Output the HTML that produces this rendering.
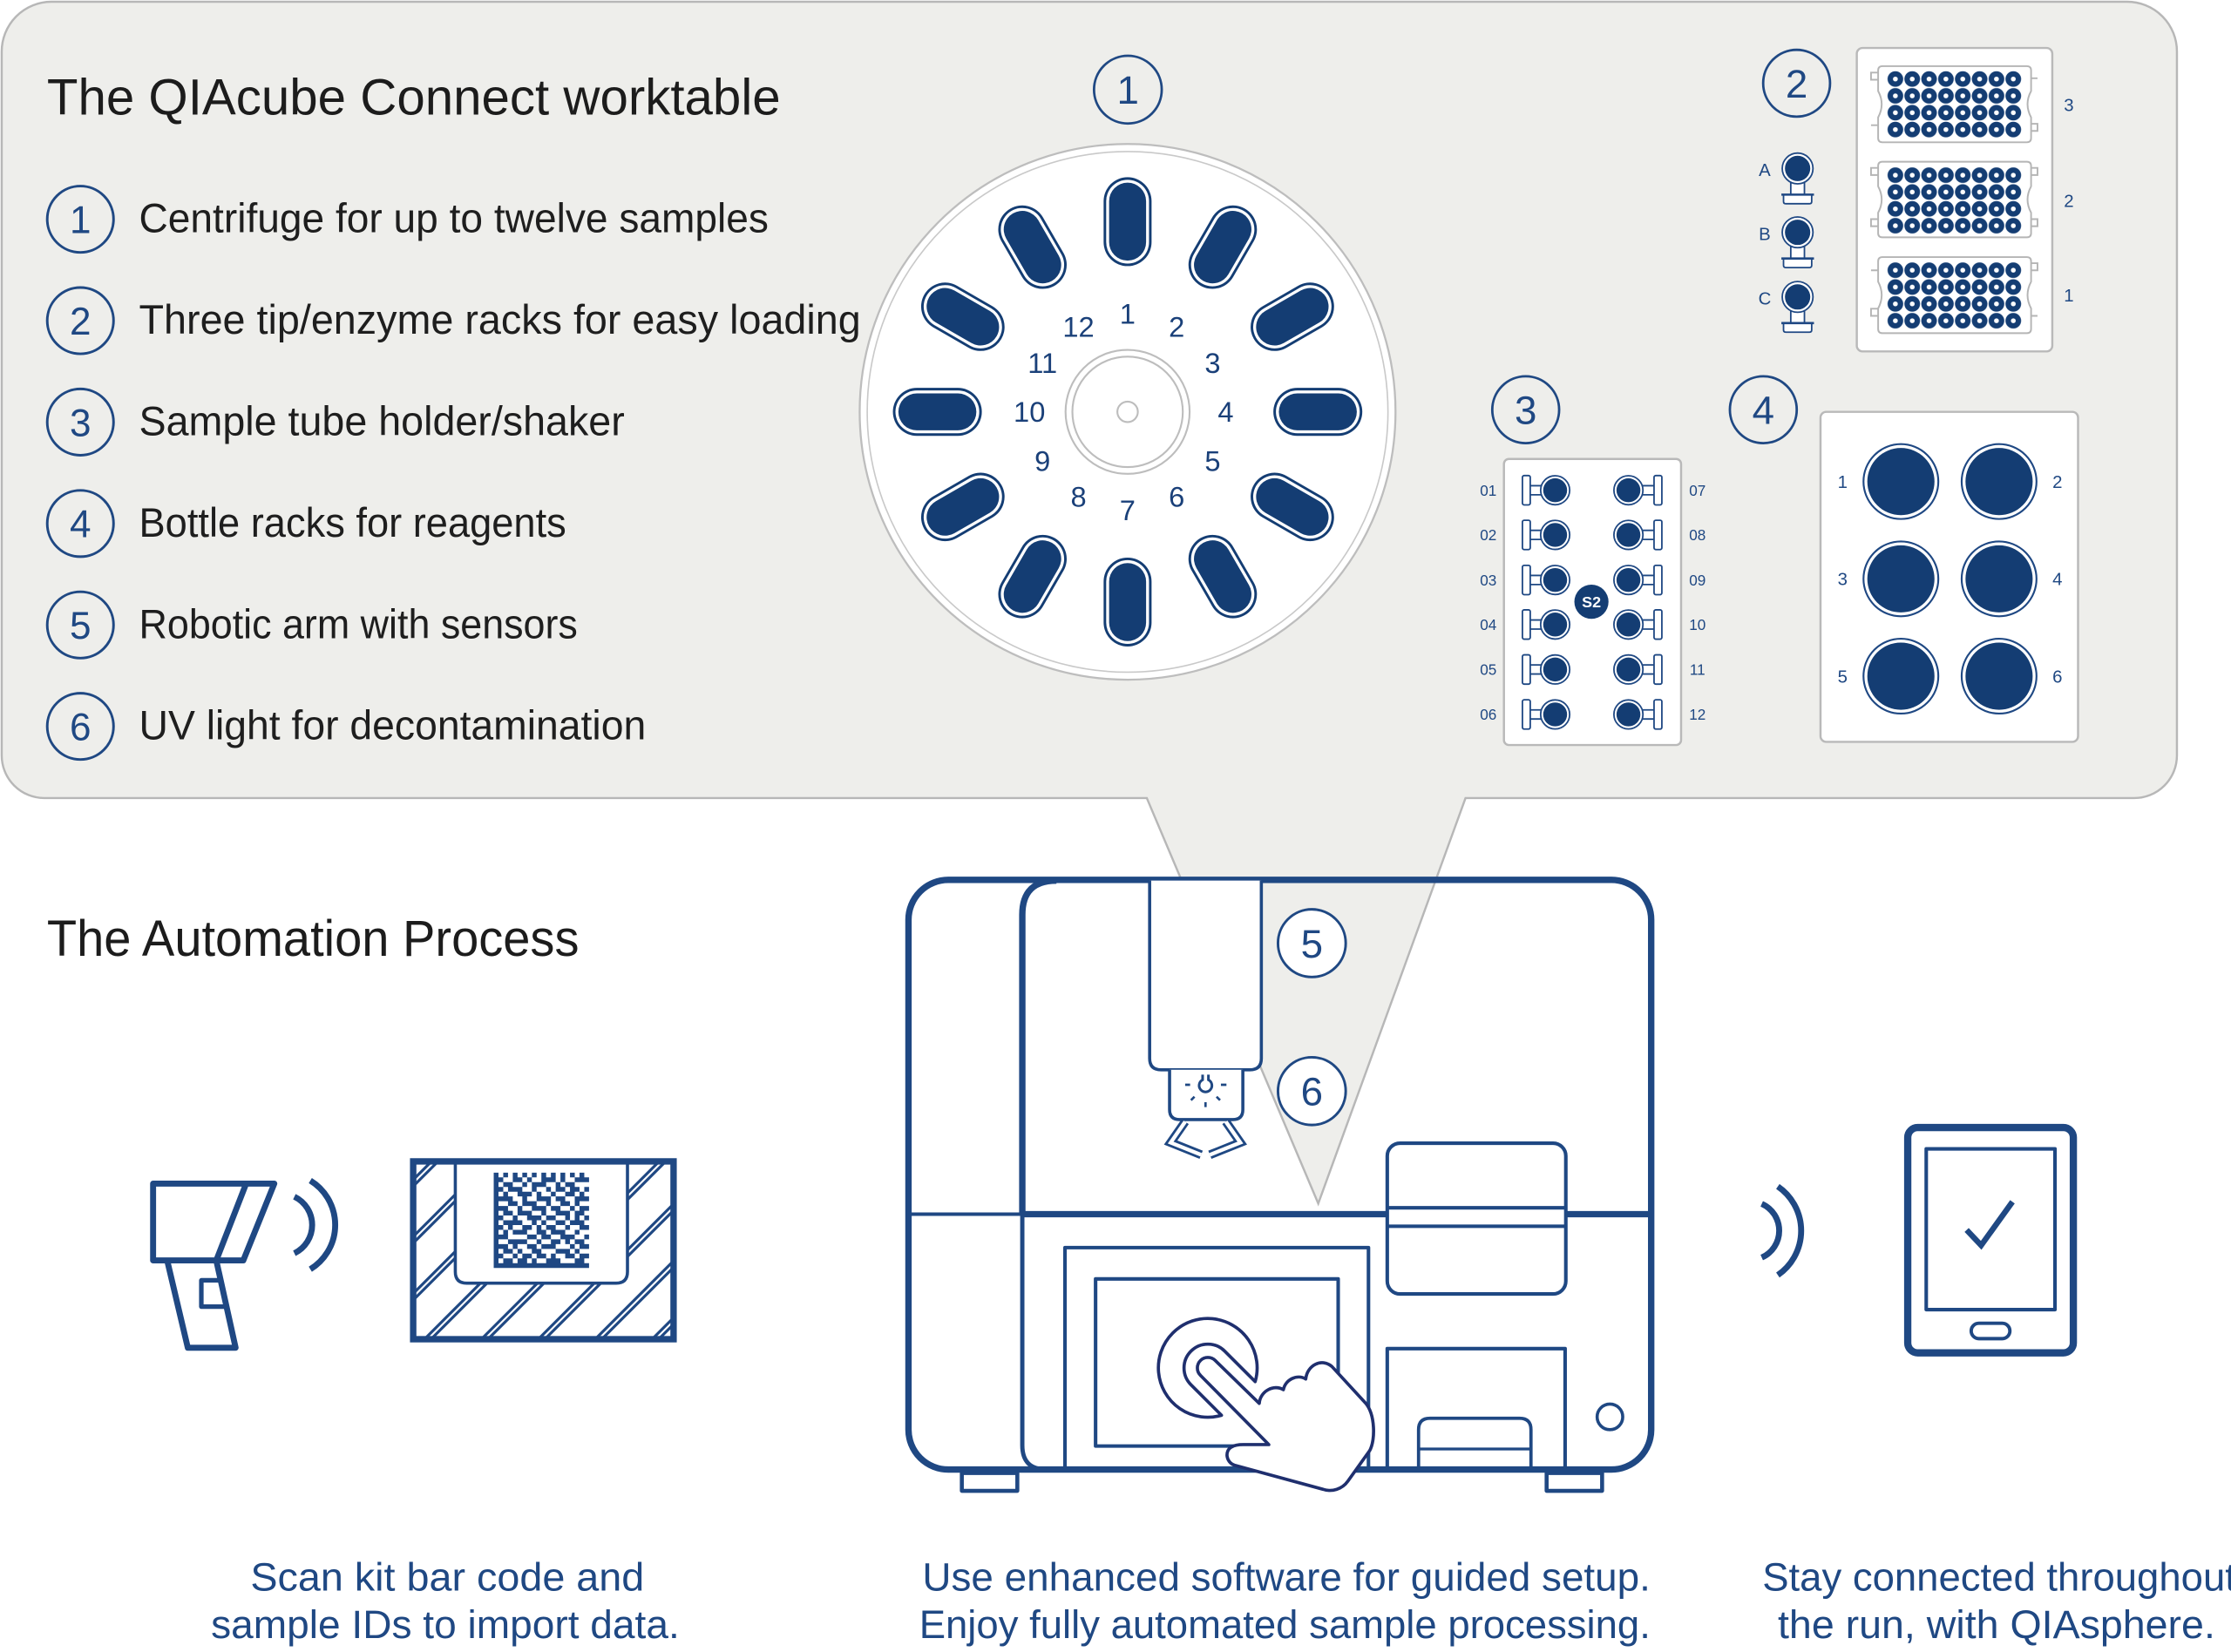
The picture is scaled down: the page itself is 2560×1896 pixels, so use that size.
<!DOCTYPE html>
<html>
<head>
<meta charset="utf-8">
<style>
  html,body{margin:0;padding:0;background:#fff;}
  svg{display:block;}
  text{font-family:"Liberation Sans", sans-serif;}
</style>
</head>
<body>
<svg xmlns="http://www.w3.org/2000/svg" width="2560" height="1896" viewBox="0 0 1568 1161.26">
<defs>
  <g id="slot">
    <rect x="-16.85" y="-31.25" width="33.7" height="62.5" rx="16.85" fill="#143d73"/>
    <rect x="-15.05" y="-29.45" width="30.1" height="58.9" rx="15.05" fill="#fff"/>
    <rect x="-13" y="-27.4" width="26" height="54.8" rx="13" fill="#143d73"/>
  </g>
  <pattern id="wells" patternUnits="userSpaceOnUse" width="11.84" height="11.84">
    <circle cx="5.92" cy="5.92" r="5.5" fill="#143d73"/>
    <circle cx="5.92" cy="5.92" r="1.7" fill="#fff"/>
  </pattern>
  <g id="ltube">
    <rect x="1070" y="-10.3" width="5.5" height="20.6" rx="1.2" fill="#fff" stroke="#1f4883" stroke-width="1.1"/>
    <path d="M1075.5,-3.2H1083.5M1075.5,3.2H1083.5" stroke="#1f4883" stroke-width="1.1" fill="none"/>
    <circle cx="1093" cy="0" r="10.2" fill="#fff" stroke="#1f4883" stroke-width="1.1"/>
    <circle cx="1093" cy="0" r="8.4" fill="#143d73"/>
  </g>
  <g id="rtube">
    <rect x="1162.5" y="-10.3" width="5.5" height="20.6" rx="1.2" fill="#fff" stroke="#1f4883" stroke-width="1.1"/>
    <path d="M1154.5,-3.2H1162.5M1154.5,3.2H1162.5" stroke="#1f4883" stroke-width="1.1" fill="none"/>
    <circle cx="1144.5" cy="0" r="10.2" fill="#fff" stroke="#1f4883" stroke-width="1.1"/>
    <circle cx="1144.5" cy="0" r="8.4" fill="#143d73"/>
  </g>
  <g id="reagent">
    <rect x="1258.6" y="9" width="9.6" height="9.4" fill="#fff" stroke="#1f4883" stroke-width="1.1"/>
    <path d="M1253.5,18.4V23.2Q1253.5,24.8 1255.1,24.8H1271.7Q1273.3,24.8 1273.3,23.2V18.4" fill="#fff" stroke="#1f4883" stroke-width="1.1"/>
    <path d="M1252,18.4H1274.9" stroke="#1f4883" stroke-width="1.6"/>
    <circle cx="1263.4" cy="0" r="10.8" fill="#fff" stroke="#1f4883" stroke-width="1.1"/>
    <circle cx="1263.4" cy="0" r="8.9" fill="#143d73"/>
  </g>
  <g id="bottle">
    <circle cx="0" cy="0" r="26.3" fill="#fff" stroke="#1f4883" stroke-width="1.3"/>
    <circle cx="0" cy="0" r="23.6" fill="#143d73"/>
  </g>
  <clipPath id="boxclip"><rect x="292.5" y="818.6" width="179" height="121"/></clipPath>
</defs>

<rect x="0" y="0" width="1568" height="1161.26" fill="#fff"/>

<!-- Callout panel -->
<path d="M36,1.2 H1495 A35,35 0 0 1 1530,36.2 V531 A30,30 0 0 1 1500,561 H1030 L926.5,846 L806,561 H31 A30,30 0 0 1 1.2,531 V36.2 A35,35 0 0 1 36,1.2 Z" fill="#eeeeeb" stroke="#b7b7b7" stroke-width="1.5"/>

<!-- Titles -->
<text x="33" y="80.6" font-size="36" fill="#1c1c1c" textLength="515.6" lengthAdjust="spacingAndGlyphs">The QIAcube Connect worktable</text>
<text x="33" y="672" font-size="36" fill="#1c1c1c" textLength="374" lengthAdjust="spacingAndGlyphs">The Automation Process</text>

<!-- List -->
<g fill="none" stroke="#1f4883" stroke-width="1.8">
  <circle cx="56.5" cy="154.1" r="23.3"/>
  <circle cx="56.5" cy="225.4" r="23.3"/>
  <circle cx="56.5" cy="296.7" r="23.3"/>
  <circle cx="56.5" cy="368" r="23.3"/>
  <circle cx="56.5" cy="439.3" r="23.3"/>
  <circle cx="56.5" cy="510.6" r="23.3"/>
</g>
<g fill="#1f4883" font-size="27" text-anchor="middle">
  <text x="56.5" y="163.8">1</text>
  <text x="56.5" y="235.1">2</text>
  <text x="56.5" y="306.4">3</text>
  <text x="56.5" y="377.7">4</text>
  <text x="56.5" y="449">5</text>
  <text x="56.5" y="520.3">6</text>
</g>
<g fill="#1e1e1e" font-size="29">
  <text x="97.7" y="163.3" textLength="442.5" lengthAdjust="spacingAndGlyphs">Centrifuge for up to twelve samples</text>
  <text x="97.7" y="234.6" textLength="507.3" lengthAdjust="spacingAndGlyphs">Three tip/enzyme racks for easy loading</text>
  <text x="97.7" y="305.9" textLength="341.3" lengthAdjust="spacingAndGlyphs">Sample tube holder/shaker</text>
  <text x="97.7" y="377.2" textLength="300.3" lengthAdjust="spacingAndGlyphs">Bottle racks for reagents</text>
  <text x="97.7" y="448.5" textLength="308.3" lengthAdjust="spacingAndGlyphs">Robotic arm with sensors</text>
  <text x="97.7" y="519.8" textLength="356.3" lengthAdjust="spacingAndGlyphs">UV light for decontamination</text>
</g>

<!-- Circled numbers in worktable -->
<g fill="none" stroke="#1f4883" stroke-width="1.7">
  <circle cx="792.7" cy="63" r="23.8"/>
  <circle cx="1262.7" cy="58.5" r="23.5"/>
  <circle cx="1072.3" cy="288" r="23.5"/>
  <circle cx="1239.3" cy="288" r="23.5"/>
</g>
<g fill="#1f4883" font-size="28" text-anchor="middle">
  <text x="792.7" y="73">1</text>
  <text x="1262.7" y="68.5">2</text>
  <text x="1072.3" y="298">3</text>
  <text x="1239.3" y="298">4</text>
</g>

<!-- Centrifuge -->
<circle cx="792.5" cy="289.5" r="188.3" fill="#fff" stroke="#bdbdbd" stroke-width="1.4"/>
<circle cx="792.5" cy="289.5" r="183" fill="none" stroke="#c9c9c9" stroke-width="1"/>
<circle cx="792.5" cy="289.5" r="43.6" fill="none" stroke="#bdbdbd" stroke-width="1.3"/>
<circle cx="792.5" cy="289.5" r="38.8" fill="none" stroke="#bdbdbd" stroke-width="1.3"/>
<circle cx="792.5" cy="289.5" r="7.2" fill="none" stroke="#bdbdbd" stroke-width="1.3"/>
<g>
  <use href="#slot" transform="rotate(0 792.5 289.5) translate(792.5 155.8)"/>
  <use href="#slot" transform="rotate(30 792.5 289.5) translate(792.5 155.8)"/>
  <use href="#slot" transform="rotate(60 792.5 289.5) translate(792.5 155.8)"/>
  <use href="#slot" transform="rotate(90 792.5 289.5) translate(792.5 155.8)"/>
  <use href="#slot" transform="rotate(120 792.5 289.5) translate(792.5 155.8)"/>
  <use href="#slot" transform="rotate(150 792.5 289.5) translate(792.5 155.8)"/>
  <use href="#slot" transform="rotate(180 792.5 289.5) translate(792.5 155.8)"/>
  <use href="#slot" transform="rotate(210 792.5 289.5) translate(792.5 155.8)"/>
  <use href="#slot" transform="rotate(240 792.5 289.5) translate(792.5 155.8)"/>
  <use href="#slot" transform="rotate(270 792.5 289.5) translate(792.5 155.8)"/>
  <use href="#slot" transform="rotate(300 792.5 289.5) translate(792.5 155.8)"/>
  <use href="#slot" transform="rotate(330 792.5 289.5) translate(792.5 155.8)"/>
</g>
<g fill="#1a4079" font-size="20" text-anchor="middle">
  <text x="792.5" y="227.5">1</text>
  <text x="827" y="236.7">2</text>
  <text x="852.3" y="262">3</text>
  <text x="861.5" y="296.5">4</text>
  <text x="852.3" y="331">5</text>
  <text x="827" y="356.3">6</text>
  <text x="792.5" y="365.5">7</text>
  <text x="758" y="356.3">8</text>
  <text x="732.7" y="331">9</text>
  <text x="723.5" y="296.5">10</text>
  <text x="732.7" y="262">11</text>
  <text x="758" y="236.7">12</text>
</g>

<!-- Rack 2 -->
<rect x="1305" y="33.7" width="137.4" height="213.3" rx="4" fill="#fff" stroke="#b9b9b9" stroke-width="1.5"/>
<g fill="#fff" stroke="#b5b5b5" stroke-width="1.2">
  <path d="M1323,46.5H1424.5Q1427.5,46.5 1427.5,49.5V64Q1422.5,73.2 1427.5,82.5V97Q1427.5,100 1424.5,100H1323Q1320,100 1320,97V82.5Q1325,73.2 1320,64V49.5Q1320,46.5 1323,46.5Z"/>
  <path d="M1323,113.7H1424.5Q1427.5,113.7 1427.5,116.7V131Q1422.5,140.2 1427.5,149.5V163.8Q1427.5,166.8 1424.5,166.8H1323Q1320,166.8 1320,163.8V149.5Q1325,140.2 1320,131V116.7Q1320,113.7 1323,113.7Z"/>
  <path d="M1323,180.7H1424.5Q1427.5,180.7 1427.5,183.7V198Q1422.5,207.4 1427.5,216.8V231.2Q1427.5,234.2 1424.5,234.2H1323Q1320,234.2 1320,231.2V216.8Q1325,207.4 1320,198V183.7Q1320,180.7 1323,180.7Z"/>
</g>
<g fill="none" stroke="#b5b5b5" stroke-width="1.2">
  <path d="M1320,51H1315V56H1320M1320,88H1315M1427.5,55H1432M1427.5,87H1432V92H1427.5"/>
  <path d="M1320,118H1315V123H1320M1320,154H1315V159H1320M1427.5,118H1432V123H1427.5M1427.5,154H1432V159H1427.5"/>
  <path d="M1320,190H1315M1320,217H1315V222H1320M1427.5,185H1432V190H1427.5M1427.5,222H1432"/>
</g>
<g transform="translate(1326.2,49.6)"><rect x="0" y="0" width="94.72" height="47.36" fill="url(#wells)"/></g>
<g transform="translate(1326.2,117.2)"><rect x="0" y="0" width="94.72" height="47.36" fill="url(#wells)"/></g>
<g transform="translate(1326.2,184)"><rect x="0" y="0" width="94.72" height="47.36" fill="url(#wells)"/></g>
<g fill="#1f4883" font-size="12.5" text-anchor="middle">
  <text x="1454" y="78">3</text>
  <text x="1454" y="145.4">2</text>
  <text x="1454" y="212">1</text>
</g>
<use href="#reagent" transform="translate(0,118.4)"/>
<use href="#reagent" transform="translate(0,163.3)"/>
<use href="#reagent" transform="translate(0,208.7)"/>
<g fill="#1f4883" font-size="12.5" text-anchor="middle">
  <text x="1240.3" y="123.8">A</text>
  <text x="1240.3" y="168.7">B</text>
  <text x="1240.3" y="214.1">C</text>
</g>

<!-- Tube holder 3 -->
<rect x="1057" y="322.6" width="124.5" height="201.1" rx="3.5" fill="#fff" stroke="#b9b9b9" stroke-width="1.5"/>
<use href="#ltube" transform="translate(0,344.6)"/>
<use href="#ltube" transform="translate(0,376)"/>
<use href="#ltube" transform="translate(0,407.7)"/>
<use href="#ltube" transform="translate(0,439)"/>
<use href="#ltube" transform="translate(0,470.6)"/>
<use href="#ltube" transform="translate(0,502.2)"/>
<use href="#rtube" transform="translate(0,344.6)"/>
<use href="#rtube" transform="translate(0,376)"/>
<use href="#rtube" transform="translate(0,407.7)"/>
<use href="#rtube" transform="translate(0,439)"/>
<use href="#rtube" transform="translate(0,470.6)"/>
<use href="#rtube" transform="translate(0,502.2)"/>
<circle cx="1118.5" cy="423" r="12" fill="#143d73"/>
<text x="1118.5" y="427" font-size="11" font-weight="bold" fill="#fff" text-anchor="middle">S2</text>
<g fill="#1f4883" font-size="10.5" text-anchor="middle">
  <text x="1046" y="348.4">01</text>
  <text x="1046" y="379.8">02</text>
  <text x="1046" y="411.5">03</text>
  <text x="1046" y="442.8">04</text>
  <text x="1046" y="474.4">05</text>
  <text x="1046" y="506">06</text>
  <text x="1193" y="348.4">07</text>
  <text x="1193" y="379.8">08</text>
  <text x="1193" y="411.5">09</text>
  <text x="1193" y="442.8">10</text>
  <text x="1193" y="474.4">11</text>
  <text x="1193" y="506">12</text>
</g>

<!-- Bottle rack 4 -->
<rect x="1279.5" y="289.5" width="181" height="232" rx="4" fill="#fff" stroke="#b9b9b9" stroke-width="1.5"/>
<use href="#bottle" transform="translate(1336,338.5)"/>
<use href="#bottle" transform="translate(1405,338.5)"/>
<use href="#bottle" transform="translate(1336,406.9)"/>
<use href="#bottle" transform="translate(1405,406.9)"/>
<use href="#bottle" transform="translate(1336,475.3)"/>
<use href="#bottle" transform="translate(1405,475.3)"/>
<g fill="#1f4883" font-size="12.5" text-anchor="middle">
  <text x="1295" y="343">1</text>
  <text x="1446" y="343">2</text>
  <text x="1295" y="411.4">3</text>
  <text x="1446" y="411.4">4</text>
  <text x="1295" y="479.8">5</text>
  <text x="1446" y="479.8">6</text>
</g>

<!-- Instrument -->
<g fill="none" stroke="#1f4883" stroke-linejoin="round">
  <rect x="638.5" y="618.5" width="522" height="414.5" rx="28" stroke-width="4.5"/>
  <rect x="676" y="1035.5" width="39" height="12.5" fill="#fff" stroke-width="2.8"/>
  <rect x="1087" y="1035.5" width="39" height="12.5" fill="#fff" stroke-width="2.8"/>
  <path d="M718.5,853 V643 Q718.5,619 742.5,619" stroke-width="4.5"/>
  <path d="M718.5,853 V1016 Q718.5,1033 735.5,1033" stroke-width="3"/>
  <path d="M638.5,853.5 H718.5" stroke-width="2.5"/>
  <path d="M718.5,853.5 H975" stroke-width="4.5"/>
  <path d="M1100.5,853.5 H1160.5" stroke-width="4.5"/>
  <rect x="975" y="803.6" width="125.5" height="106" rx="9" fill="#fff" stroke-width="2.5"/>
  <path d="M975,849H1100.5M975,862H1100.5" stroke-width="2.5"/>
  <path d="M975,1033V948H1100V1033" stroke-width="2.5"/>
  <path d="M997,1033V1005Q997,997 1005,997H1068Q1076,997 1076,1005V1033" stroke-width="2.3"/>
  <path d="M997,1018.6H1076" stroke-width="2"/>
  <circle cx="1131.5" cy="996" r="9" stroke-width="2.2"/>
  <path d="M748.5,1033V877H961.8V1033" stroke-width="2.5"/>
  <rect x="770" y="899" width="170.5" height="117.5" stroke-width="2.5"/>
  <path d="M808,619V744Q808,752 816,752H878.5Q886.5,752 886.5,744V619" fill="#fff" stroke-width="2.2"/>
  <path d="M822,752V780Q822,787 829,787H866.5Q873.5,787 873.5,780V752" fill="#fff" stroke-width="2.2"/>
</g>
<g transform="translate(796.23,734.98) scale(0.20416)" fill="none" stroke="#1f4883">
  <path d="M240,100V118A22,22 0 1 0 260,118V100" stroke-width="9"/>
  <path d="M180,135H197M303,135H322M200,188L212,176M300,188L288,176M250,195V212" stroke-width="8"/>
  <path d="M180,262L130,334L235,376" stroke-width="30" stroke-linejoin="miter"/>
  <path d="M180,262L130,334L235,376" stroke="#fff" stroke-width="13" stroke-linejoin="miter"/>
  <path d="M320,262L370,334L265,376" stroke-width="30" stroke-linejoin="miter"/>
  <path d="M320,262L370,334L265,376" stroke="#fff" stroke-width="13" stroke-linejoin="miter"/>
</g>
<g fill="#fff" stroke="#1f4883" stroke-width="1.8">
  <circle cx="922" cy="663" r="23.8"/>
  <circle cx="922" cy="767" r="23.8"/>
</g>
<g fill="#1f4883" font-size="28" text-anchor="middle">
  <text x="922" y="673">5</text>
  <text x="922" y="777">6</text>
</g>
<g transform="translate(783.98,869.72) scale(0.20416)" fill="#fff" stroke="#1f2f6e" stroke-width="11" stroke-linejoin="round">
  <path d="M481,497 A170,170 0 1 0 365,613 L260,508 A82,82 0 0 1 376,392 Z"/>
  <path d="M292.5,475.5 A36,36 0 0 1 343.5,424.5 L495,572 C498,530 545,505 578,525 C585,490 625,470 655,488 C660,440 710,415 745,445 L860,570 C895,610 895,700 875,735 L800,840 C780,868 745,878 715,868 L410,785 C380,775 375,735 400,722 C410,716 425,714 440,714 L528,714 Z"/>
</g>

<!-- Scanner -->
<g fill="none" stroke="#1f4883" stroke-width="4.2" stroke-linejoin="round">
  <path d="M107.6,832 H192.8 L171,886 H107.6 Z"/>
  <path d="M173,832 L152,886"/>
  <path d="M117.5,886 L132,947.4 H165.6 L152,886"/>
  <path d="M156.5,900 H141.5 V918.5 H159.5" stroke-width="3.2"/>
  <path d="M206.9,841.2 A22.1,22.1 0 0 1 206.9,881"/>
  <path d="M218.1,829.9 A36.5,36.5 0 0 1 218.1,892.2"/>
</g>

<!-- Label box -->
<rect x="290.4" y="816.4" width="183" height="125" fill="#fff"/>
<g clip-path="url(#boxclip)" fill="none">
  <path d="M288,834L308,814M288,874L348,814M288,914L388,814M288,954L428,814M288,994L468,814M288,1034L508,814M288,1074L548,814M288,1114L588,814" stroke="#1f4883" stroke-width="5.2"/>
  <path d="M288,834L308,814M288,874L348,814M288,914L388,814M288,954L428,814M288,994L468,814M288,1034L508,814M288,1074L548,814M288,1114L588,814" stroke="#fff" stroke-width="1.3"/>
</g>
<path d="M320,817V894Q320,902 328,902H433Q441,902 441,894V817" fill="#fff" stroke="#1f4883" stroke-width="2.2"/>
<rect x="290.4" y="816.4" width="183" height="125" fill="none" stroke="#1f4883" stroke-width="4.5"/>
<g transform="translate(347,824.3) scale(3.35)" fill="#1f4883">
  <path d="M0 0h1v1h-1zM2 0h1v1h-1zM4 0h1v1h-1zM6 0h1v1h-1zM8 0h1v1h-1zM10 0h1v1h-1zM12 0h1v1h-1zM14 0h1v1h-1zM16 0h1v1h-1zM18 0h1v1h-1z
  M0 1h2v1h-2zM4 1h2v1h-2zM7 1h1v1h-1zM10 1h3v1h-3zM14 1h1v1h-1zM17 1h3v1h-3z
  M0 2h1v1h-1zM2 2h2v1h-2zM6 2h1v1h-1zM8 2h3v1h-3zM13 2h1v1h-1zM15 2h2v1h-2z
  M0 3h2v1h-2zM3 3h3v1h-3zM8 3h1v1h-1zM11 3h1v1h-1zM13 3h2v1h-2zM16 3h2v1h-2zM19 3h1v1h-1z
  M0 4h1v1h-1zM2 4h1v1h-1zM5 4h3v1h-3zM9 4h1v1h-1zM12 4h1v1h-1zM15 4h2v1h-2zM18 4h1v1h-1z
  M0 5h4v1h-4zM6 5h1v1h-1zM9 5h3v1h-3zM13 5h2v1h-2zM17 5h3v1h-3z
  M0 6h1v1h-1zM3 6h2v1h-2zM6 6h3v1h-3zM11 6h1v1h-1zM14 6h2v1h-2zM17 6h1v1h-1z
  M0 7h3v1h-3zM5 7h1v1h-1zM8 7h3v1h-3zM12 7h2v1h-2zM16 7h1v1h-1zM18 7h2v1h-2z
  M0 8h1v1h-1zM2 8h2v1h-2zM5 8h3v1h-3zM10 8h1v1h-1zM13 8h3v1h-3zM17 8h2v1h-2z
  M0 9h2v1h-2zM4 9h1v1h-1zM7 9h3v1h-3zM11 9h2v1h-2zM15 9h1v1h-1zM17 9h1v1h-1zM19 9h1v1h-1z
  M0 10h1v1h-1zM2 10h4v1h-4zM8 10h1v1h-1zM10 10h1v1h-1zM13 10h2v1h-2zM16 10h3v1h-3z
  M0 11h2v1h-2zM3 11h1v1h-1zM6 11h2v1h-2zM9 11h1v1h-1zM11 11h2v1h-2zM15 11h1v1h-1zM18 11h2v1h-2z
  M0 12h1v1h-1zM2 12h1v1h-1zM4 12h3v1h-3zM9 12h2v1h-2zM12 12h3v1h-3zM17 12h1v1h-1z
  M0 13h3v1h-3zM7 13h2v1h-2zM10 13h2v1h-2zM14 13h3v1h-3zM19 13h1v1h-1z
  M0 14h1v1h-1zM3 14h4v1h-4zM9 14h1v1h-1zM12 14h2v1h-2zM15 14h1v1h-1zM17 14h2v1h-2z
  M0 15h3v1h-3zM4 15h1v1h-1zM7 15h2v1h-2zM10 15h3v1h-3zM16 15h1v1h-1zM18 15h2v1h-2z
  M0 16h1v1h-1zM2 16h2v1h-2zM5 16h1v1h-1zM8 16h2v1h-2zM13 16h3v1h-3zM17 16h1v1h-1z
  M0 17h2v1h-2zM4 17h1v1h-1zM6 17h2v1h-2zM9 17h2v1h-2zM12 17h1v1h-1zM15 17h2v1h-2zM18 17h2v1h-2z
  M0 18h1v1h-1zM2 18h2v1h-2zM5 18h2v1h-2zM8 18h1v1h-1zM11 18h3v1h-3zM17 18h2v1h-2z
  M0 19h20v1h-20z"/>
</g>

<!-- Tablet -->
<g fill="none" stroke="#1f4883" stroke-linejoin="round">
  <path d="M1238.2,846.2 A20.7,20.7 0 0 1 1238.2,884" stroke-width="4.2"/>
  <path d="M1249.5,834 A37.8,37.8 0 0 1 1249.5,896.3" stroke-width="4.2"/>
  <rect x="1340.8" y="792.6" width="116.4" height="158.4" rx="7" stroke-width="5.1"/>
  <rect x="1353.8" y="807.6" width="90.5" height="113" stroke-width="2.5"/>
  <rect x="1385.4" y="930.2" width="27.2" height="10.8" rx="5.4" stroke-width="2.4"/>
  <path d="M1382.2,864.6 L1392.4,875.4 L1414.4,844.8" stroke-width="4" stroke-linejoin="miter"/>
</g>

<!-- Bottom captions -->
<g fill="#1f4883" font-size="28">
  <text x="176" y="1118" textLength="276.8" lengthAdjust="spacingAndGlyphs">Scan kit bar code and</text>
  <text x="148.3" y="1151.5" textLength="329.3" lengthAdjust="spacingAndGlyphs">sample IDs to import data.</text>
  <text x="648.3" y="1118" textLength="511.7" lengthAdjust="spacingAndGlyphs">Use enhanced software for guided setup.</text>
  <text x="646" y="1151.5" textLength="514" lengthAdjust="spacingAndGlyphs">Enjoy fully automated sample processing.</text>
  <text x="1238.6" y="1118" textLength="333" lengthAdjust="spacingAndGlyphs">Stay connected throughout</text>
  <text x="1249.5" y="1151.5" textLength="307.4" lengthAdjust="spacingAndGlyphs">the run, with QIAsphere.</text>
</g>
</svg>
</body>
</html>
